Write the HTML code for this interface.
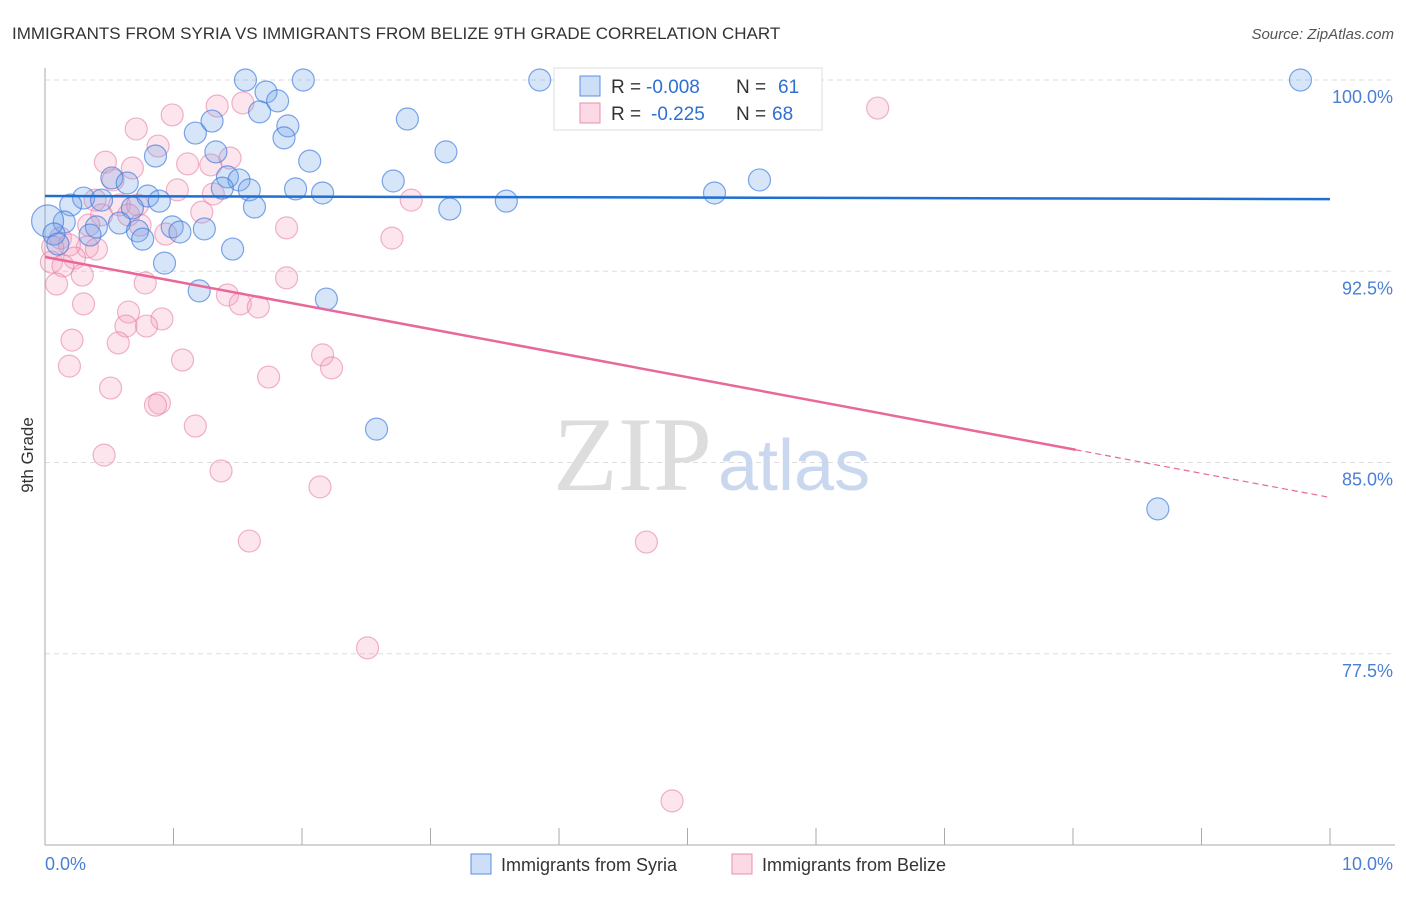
<!DOCTYPE html>
<html><head><meta charset="utf-8"><style>
body{margin:0;background:#fff;font-family:"Liberation Sans",sans-serif}
</style></head><body>
<svg width="1406" height="892" viewBox="0 0 1406 892" xmlns="http://www.w3.org/2000/svg">
<text x="12" y="39" font-size="17" fill="#333">IMMIGRANTS FROM SYRIA VS IMMIGRANTS FROM BELIZE 9TH GRADE CORRELATION CHART</text>
<text x="1394" y="39" font-size="15" fill="#555" text-anchor="end" font-style="italic">Source: ZipAtlas.com</text>
<g id="grid"></g>
<text x="712" y="490" font-size="106" fill="#ddd" text-anchor="end" font-family="Liberation Serif">ZIP</text>
<text x="718" y="490" font-size="72" fill="#c9d8ef">atlas</text>
<g id="axes"></g>
<g id="pts"></g>
<g id="trend"></g>
<text x="33" y="455" font-size="17" fill="#333" text-anchor="middle" transform="rotate(-90 33 455)">9th Grade</text>
<g>
<rect x="554" y="68" width="268" height="62" fill="#fff" stroke="#ddd"/>
<rect x="580" y="76" width="20" height="20" fill="rgba(110,160,235,0.35)" stroke="#5b8fe0"/>
<rect x="580" y="103" width="20" height="20" fill="rgba(245,160,190,0.4)" stroke="#e890b0"/>
<text x="611" y="93" font-size="19" fill="#333">R =</text>
<text x="646" y="93" font-size="19" fill="#2f6fd0">-0.008</text>
<text x="736" y="93" font-size="19" fill="#333">N =</text>
<text x="778" y="93" font-size="19" fill="#2f6fd0">61</text>
<text x="611" y="120" font-size="19" fill="#333">R =</text>
<text x="651" y="120" font-size="19" fill="#2f6fd0">-0.225</text>
<text x="736" y="120" font-size="19" fill="#333">N =</text>
<text x="772" y="120" font-size="19" fill="#2f6fd0">68</text>
</g>
<g>
<rect x="471" y="854" width="20" height="20" fill="rgba(110,160,235,0.35)" stroke="#5b8fe0"/>
<text x="501" y="871" font-size="18" fill="#333">Immigrants from Syria</text>
<rect x="732" y="854" width="20" height="20" fill="rgba(245,160,190,0.4)" stroke="#e890b0"/>
<text x="762" y="871" font-size="18" fill="#333">Immigrants from Belize</text>
</g>
</svg>
<script>
const yTicks=[100,92.5,85,77.5];
const yTickLabels=["100.0%","92.5%","85.0%","77.5%"];
const xTickLabels=["0.0%","10.0%"];
const syriaX=[1.56,2.01,3.85,9.77,1.72,1.81,1.67,1.89,2.82,1.86,1.17,1.30,0.86,1.33,2.06,3.12,1.42,1.51,2.71,5.56,0.52,0.64,1.38,1.59,1.95,2.16,5.21,0.80,0.30,0.20,0.44,0.89,1.63,3.15,3.59,0.68,0.40,0.58,0.15,0.02,0.99,1.05,1.24,0.72,0.35,0.07,0.76,0.10,1.46,0.93,1.20,2.19,2.58,8.66,5.80];
const syriaY=[100,100,100,100,99.53,99.18,98.75,98.20,98.47,97.73,97.92,98.39,97.02,97.18,96.82,97.18,96.20,96.08,96.04,96.08,96.16,95.96,95.76,95.69,95.73,95.57,95.57,95.45,95.37,95.10,95.29,95.25,95.02,94.94,95.25,94.98,94.24,94.39,94.43,94.47,94.24,94.04,94.16,94.08,93.92,93.96,93.76,93.57,93.37,92.82,91.73,91.41,86.31,83.18,98.82];
const belizeX=[4.44,6.48,1.54,1.34,0.99,0.71,0.88,0.47,1.11,0.68,1.44,1.29,0.53,1.03,1.31,0.39,0.58,0.72,2.85,1.22,0.44,0.65,0.34,0.74,1.88,0.94,0.12,2.70,0.33,0.40,0.19,0.06,0.23,0.05,0.14,0.29,1.88,0.78,0.09,1.42,1.52,1.66,0.30,0.65,0.91,0.63,0.79,0.21,0.57,2.16,1.07,0.19,2.23,1.74,0.51,0.89,0.86,1.17,0.46,1.37,2.14,1.59,4.68,2.51,4.88];
const belizeY=[99.92,98.90,99.10,98.98,98.63,98.08,97.41,96.78,96.71,96.55,96.94,96.67,96.08,95.69,95.53,95.29,95.10,95.10,95.29,94.82,94.71,94.71,94.31,94.31,94.20,93.96,93.80,93.80,93.45,93.37,93.53,93.45,93.02,92.86,92.71,92.35,92.24,92.04,92.00,91.57,91.22,91.10,91.22,90.90,90.63,90.35,90.35,89.80,89.69,89.22,89.02,88.78,88.71,88.35,87.92,87.33,87.25,86.43,85.29,84.67,84.04,81.92,81.88,77.73,71.73];
const syriaTrend=[95.45,95.33];
const belizeTrend=[93.06,85.5,83.63];
const belizeSolidEnd=8.02;
const NS="http://www.w3.org/2000/svg";
const X=p=>45+p*128.5, Y=v=>80+(100-v)*25.5;
function mk(t,a,parent){const e=document.createElementNS(NS,t);for(const k in a)e.setAttribute(k,a[k]);parent.appendChild(e);return e;}
const grid=document.getElementById('grid'),axes=document.getElementById('axes'),pts=document.getElementById('pts'),trend=document.getElementById('trend');
yTicks.forEach((v,i)=>{
 const l=mk('line',{x1:45,x2:1395,y1:Y(v),y2:Y(v),stroke:'#ddd','stroke-dasharray':'5,4'},grid);
 
 
 const t=mk('text',{x:1393,y:Y(v)+23,'font-size':18,fill:'#4a7fd4','text-anchor':'end'},axes);t.textContent=yTickLabels[i];
 
 
});
const ax=mk('line',{x1:45,x2:45,y1:68,y2:845,stroke:'#aaa'},axes);


const bx=mk('line',{x1:45,x2:1395,y1:845,y2:845,stroke:'#aaa'},axes);


for(let i=0;i<=10;i++){const t=mk('line',{x1:X(i),x2:X(i),y1:828,y2:845,stroke:'#aaa'},axes);
 
 }
const t0=mk('text',{x:45,y:870,'font-size':18,fill:'#4a7fd4'},axes);t0.textContent=xTickLabels[0];


const t1=mk('text',{x:1393,y:870,'font-size':18,fill:'#4a7fd4','text-anchor':'end'},axes);t1.textContent=xTickLabels[1];


belizeX.forEach((p,i)=>{const c=mk('circle',{cx:X(p),cy:Y(belizeY[i]),r:11,fill:'rgba(245,160,190,0.28)',stroke:'rgba(230,130,165,0.6)','stroke-width':1.2},pts);
 
 });
syriaX.forEach((p,i)=>{const c=mk('circle',{cx:X(p),cy:Y(syriaY[i]),r:i==39?16:11,fill:'rgba(110,160,235,0.28)',stroke:'rgba(60,120,220,0.65)','stroke-width':1.2},pts);
 
 });
const sl=mk('line',{x1:X(0),y1:Y(syriaTrend[0]),x2:X(10),y2:Y(syriaTrend[1]),stroke:'#1f6fd0','stroke-width':2.5},trend);


const bl=mk('line',{x1:X(0),y1:Y(belizeTrend[0]),x2:X(belizeSolidEnd),y2:Y(belizeTrend[1]),stroke:'#e8689a','stroke-width':2.5},trend);


const bd=mk('line',{x1:X(belizeSolidEnd),y1:Y(belizeTrend[1]),x2:X(10),y2:Y(belizeTrend[2]),stroke:'#e8689a','stroke-width':1.2,'stroke-dasharray':'6,4'},trend);


</script>
</body></html>
